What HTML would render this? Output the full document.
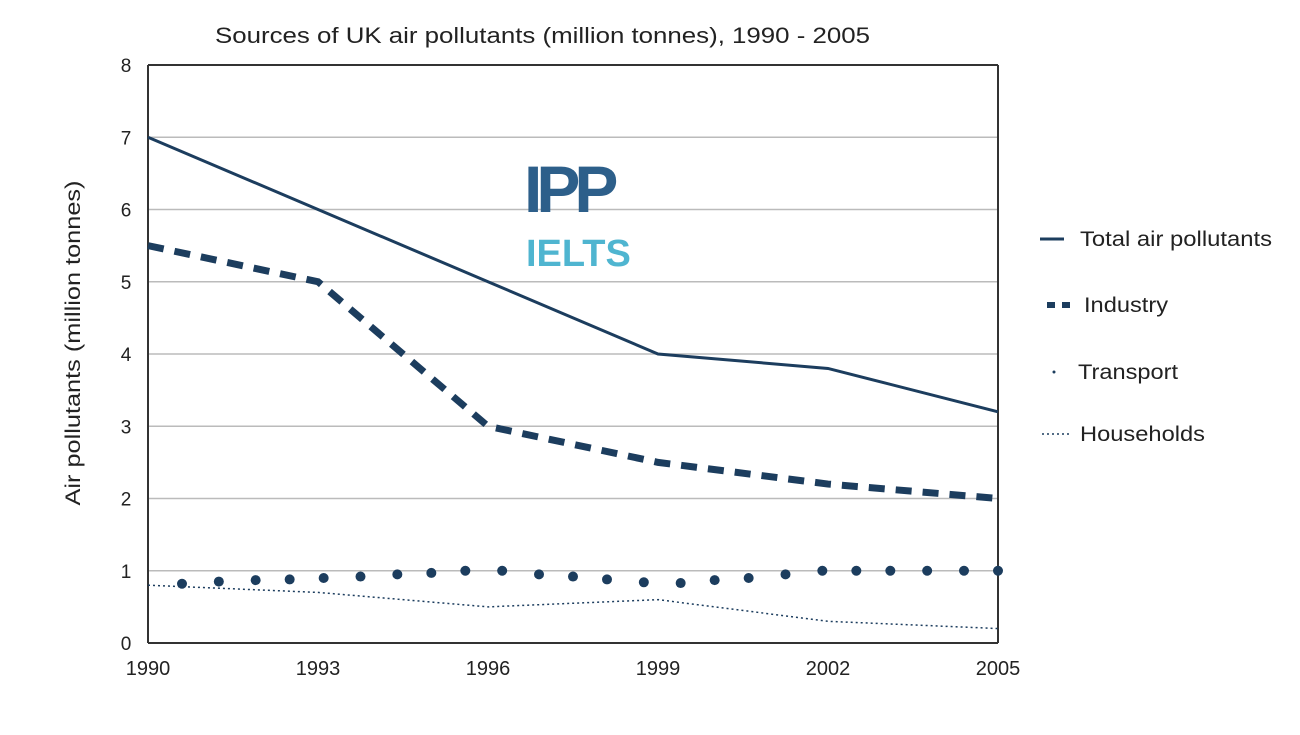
<!DOCTYPE html>
<html><head><meta charset="utf-8"><style>
body{margin:0;background:#fff;width:1300px;height:730px;overflow:hidden;font-family:"Liberation Sans",sans-serif}
</style></head><body>
<svg id="chart" width="1300" height="730" xmlns="http://www.w3.org/2000/svg" font-family="Liberation Sans, sans-serif">
<text x="215" y="43" font-size="22" textLength="655" lengthAdjust="spacingAndGlyphs" fill="#222">Sources of UK air pollutants (million tonnes), 1990 - 2005</text>
<text transform="translate(80,343) rotate(-90)" font-size="21" text-anchor="middle" textLength="325" lengthAdjust="spacingAndGlyphs" fill="#222">Air pollutants (million tonnes)</text>
<g id="grid"></g><g id="ticks"></g><g id="series"></g>
<g>
<text x="524" y="212" font-size="66" fill="#2d5f8a" font-weight="bold" letter-spacing="-6">IPP</text>
<text x="526" y="266" font-size="38" fill="#4fb5d0" font-weight="bold">IELTS</text>
</g>
<g font-size="21" fill="#222">
<g><line x1="1040" y1="239" x2="1064" y2="239" stroke="#1c3d5e" stroke-width="3"/><text x="1080" y="246" textLength="192" lengthAdjust="spacingAndGlyphs">Total air pollutants</text></g>
<g><line x1="1047" y1="305" x2="1071" y2="305" stroke="#1c3d5e" stroke-width="6" stroke-dasharray="8,7"/><text x="1084" y="312" textLength="84" lengthAdjust="spacingAndGlyphs">Industry</text></g>
<g><circle cx="1054" cy="372" r="1.5" fill="#1c3d5e"/><text x="1078" y="379" textLength="100" lengthAdjust="spacingAndGlyphs">Transport</text></g>
<g><line x1="1042" y1="434" x2="1070" y2="434" stroke="#1c3d5e" stroke-width="1.5" stroke-dasharray="2,3"/><text x="1080" y="441" textLength="125" lengthAdjust="spacingAndGlyphs">Households</text></g>
</g>
</svg>
<script>
const years=[1990,1993,1996,1999,2002,2005];
const yTicks=[0,1,2,3,4,5,6,7,8];
const totalVals=[7,6,5,4,3.8,3.2];
const industryVals=[5.5,5,3,2.5,2.2,2];
const householdVals=[0.8,0.7,0.5,0.6,0.3,0.2];
const transportYears=[1990.6,1991.25,1991.9,1992.5,1993.1,1993.75,1994.4,1995,1995.6,1996.25,1996.9,1997.5,1998.1,1998.75,1999.4,2000,2000.6,2001.25,2001.9,2002.5,2003.1,2003.75,2004.4,2005];
const transportVals=[0.82,0.85,0.87,0.88,0.9,0.92,0.95,0.97,1.0,1.0,0.95,0.92,0.88,0.84,0.83,0.87,0.9,0.95,1.0,1.0,1.0,1.0,1.0,1.0];
const X0=148,X1=998,Y0=643,Y1=65;
const sx=v=>X0+(v-1990)/(2005-1990)*(X1-X0);
const sy=v=>Y0-v/8*(Y0-Y1);
const NS="http://www.w3.org/2000/svg";
function mk(t,a,p){const e=document.createElementNS(NS,t);for(const k in a)e.setAttribute(k,a[k]);p.appendChild(e);return e;}
const grid=document.getElementById('grid'),ticks=document.getElementById('ticks'),ser=document.getElementById('series');
yTicks.forEach(v=>{
 const l=mk('line',{x1:X0,x2:X1,y1:sy(v),y2:sy(v),stroke:v===0||v===8?'#333':'#bbb','stroke-width':v===0||v===8?2:1.5},grid);
 
 
 const t=mk('text',{x:X0-22,y:sy(v)+7,'font-size':19,'text-anchor':'middle',fill:'#222'},ticks);t.textContent=v;
 
 
});
[X0,X1].forEach((x,i)=>{const l=mk('line',{x1:x,x2:x,y1:Y1,y2:Y0,stroke:'#333','stroke-width':2},grid);
 
 });
years.forEach(y=>{const t=mk('text',{x:sx(y),y:Y0+32,'font-size':20,'text-anchor':'middle',fill:'#222'},ticks);t.textContent=y;
 
 });
const pts=v=>years.map((y,i)=>sx(y)+','+sy(v[i])).join(' ');
const tot=mk('polyline',{points:pts(totalVals),fill:'none',stroke:'#1c3d5e','stroke-width':3},ser);


const ind=mk('polyline',{points:pts(industryVals),fill:'none',stroke:'#1c3d5e','stroke-width':7,'stroke-dasharray':'16,11'},ser);


const hh=mk('polyline',{points:pts(householdVals),fill:'none',stroke:'#1c3d5e','stroke-width':1.5,'stroke-dasharray':'2,3'},ser);


transportYears.forEach((y,i)=>{const c=mk('circle',{cx:sx(y),cy:sy(transportVals[i]),r:5,fill:'#1c3d5e'},ser);
 
 });
</script>
</body></html>
